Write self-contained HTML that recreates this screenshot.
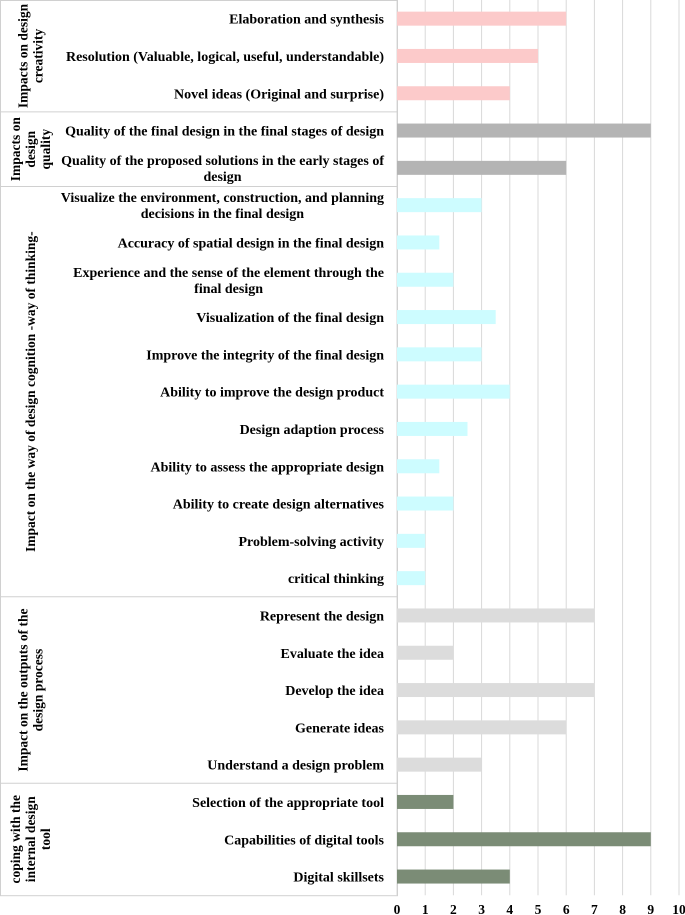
<!DOCTYPE html>
<html><head><meta charset="utf-8"><style>
body{margin:0;background:#fff}
svg{display:block}
text{font-family:"Liberation Serif",serif;font-weight:bold;fill:#000}
</style></head><body>
<svg id="chart" width="685" height="915" xmlns="http://www.w3.org/2000/svg"></svg>
<script>
const categories=["Elaboration and synthesis","Resolution (Valuable, logical, useful, understandable)","Novel ideas (Original and surprise)","Quality of the final design in the final stages of design","Quality of the proposed solutions in the early stages of|design","Visualize the environment, construction, and planning|decisions in the final design","Accuracy of spatial design in the final design","Experience and the sense of the element through the|final design","Visualization of the final design","Improve the integrity of the final design","Ability to improve the design product","Design adaption process","Ability to assess the appropriate design","Ability to create design alternatives","Problem-solving activity","critical thinking ","Represent the design","Evaluate the idea","Develop the idea","Generate ideas","Understand a design problem","Selection of the appropriate tool","Capabilities of digital tools","Digital skillsets"];
const values=[6,5,4,9,6,3,1.5,2,3.5,3,4,2.5,1.5,2,1,1,7,2,7,6,3,2,9,4];
const groupIndex=[0,0,0,1,1,2,2,2,2,2,2,2,2,2,2,2,3,3,3,3,3,4,4,4];
const groupNames=["Impacts on design|creativity","Impacts on|design|quality","Impact on the way of design cognition -way of thinking-","Impact on the outputs of the|design process","coping with the|internal design|tool"];
const groupColors=["#fccaca","#b4b4b4","#cdfcff","#dcdcdc","#7b8c76"];
const ticks=[0,1,2,3,4,5,6,7,8,9,10];
const svg=document.getElementById('chart');const NS="http://www.w3.org/2000/svg";
const x0=397,ux=28.2,top0=0,rowH=37.3;
const xs=v=>x0+v*ux, yc=i=>top0+rowH*(i+0.5);
function el(t,a,p){const e=document.createElementNS(NS,t);for(const k in a)e.setAttribute(k,a[k]);(p||svg).appendChild(e);return e;}
const bottom=top0+rowH*categories.length;
ticks.forEach(t=>{
 const g=el('line',{x1:xs(t),x2:xs(t),y1:0,y2:bottom,stroke:'#d9d9d9','stroke-width':1});
 
 
 const tx=el('text',{x:xs(t),y:914,'text-anchor':'middle','font-size':13.5});tx.textContent=t;
 
 
});
const fr=el('rect',{x:0.5,y:0.5,width:x0,height:bottom,fill:'none',stroke:'#d0d0d0'});


let start=0;
for(let g=0;g<groupNames.length;g++){
 let end=start;while(end<groupIndex.length&&groupIndex[end]===g)end++;
 if(end<groupIndex.length){const l=el('line',{x1:0,x2:x0,y1:top0+rowH*end,y2:top0+rowH*end,stroke:'#d0d0d0'});
  
  }
 const cy=top0+rowH*(start+end)/2;const lines=groupNames[g].split('|');
 const t=el('text',{transform:`translate(${30},${cy}) rotate(-90)`,'text-anchor':'middle','font-size':13.5});
 
 
 lines.forEach((s,k)=>{const ts=el('tspan',{x:0,y:(k-(lines.length-1)/2)*15+5},t);ts.textContent=s;});
 start=end;
}
categories.forEach((c,i)=>{
 const b=el('rect',{x:xs(0),y:yc(i)-7,width:xs(values[i])-xs(0),height:14,fill:groupColors[groupIndex[i]]});
 
 
 const lines=c.split('|');
 const t=el('text',{'font-size':14,'text-anchor':'end'});
 
 
 const first=el('tspan',{x:384,y:yc(i)+5-(lines.length-1)*8},t);first.textContent=lines[0];
 if(lines.length>1){
  const w=first.getComputedTextLength();
  const ts=el('tspan',{x:384-w/2,y:yc(i)+5+8,'text-anchor':'middle'},t);ts.textContent=lines[1];
 }
});
</script>
</body></html>
